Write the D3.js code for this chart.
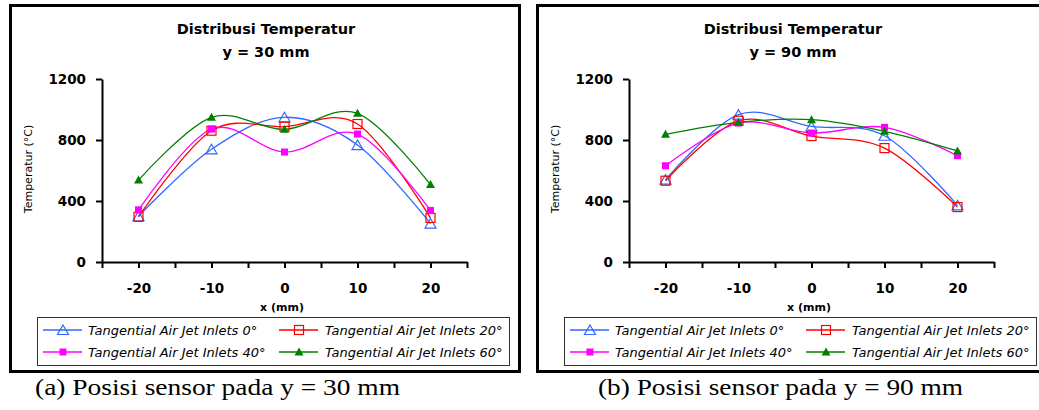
<!DOCTYPE html>
<html>
<head>
<meta charset="utf-8">
<script src="https://cdn.jsdelivr.net/npm/d3@7"></script>
<style>
  body { margin: 0; background: #fff; }
  svg { display: block; }
  .tick text { font-family: "DejaVu Sans", sans-serif; font-weight: bold; font-size: 13.5px; fill: #000; }
  .caption { font-family: "Liberation Serif", "Times New Roman", serif; font-size: 24px; }
</style>
</head>
<body>
<script>
// data
var xValues = [-20, -10, 0, 10, 20];
var seriesNames = ["Tangential Air Jet Inlets 0°", "Tangential Air Jet Inlets 20°",
                   "Tangential Air Jet Inlets 40°", "Tangential Air Jet Inlets 60°"];
var yTicks = [0, 400, 800, 1200];

// y = 30 mm
var a0  = [300, 739, 949, 767, 252];
var a20 = [296, 861, 887, 905, 289];
var a40 = [342, 872, 721, 839, 338];
var a60 = [537, 949, 870, 975, 508];

// y = 90 mm
var b0  = [540, 966, 889, 828, 371];
var b20 = [533, 926, 826, 747, 360];
var b40 = [631, 911, 846, 883, 697];
var b60 = [837, 916, 933, 857, 728];

var svgWidth = 1039;
var svgHeight = 410;

var colors = ["#3366ff", "#ff0000", "#ff00ff", "#008000"];

var svg = d3.select("body")
  .append("svg")
  .attr("width", svgWidth)
  .attr("height", svgHeight);

var panels = [
  { x0: 9,   sub: "y = 30 mm", caption: "(a) Posisi sensor pada y = 30 mm", capX: 35,  data: [a0, a20, a40, a60] },
  { x0: 536, sub: "y = 90 mm", caption: "(b) Posisi sensor pada y = 90 mm", capX: 598, data: [b0, b20, b40, b60] }
];

// marker drawing, one per series
function drawMarker(g, i, cx, cy) {
  if (i === 0) {
    g.append("path")
      .attr("d", `M${cx},${cy - 5}L${cx + 5.5},${cy + 4.5}L${cx - 5.5},${cy + 4.5}Z`)
      .attr("fill", "none").attr("stroke", colors[0]).attr("stroke-width", 1.2);
  } else if (i === 1) {
    g.append("rect")
      .attr("x", cx - 4.5).attr("y", cy - 4.5).attr("width", 9).attr("height", 9)
      .attr("fill", "none").attr("stroke", colors[1]).attr("stroke-width", 1.2);
  } else if (i === 2) {
    g.append("rect")
      .attr("x", cx - 3.5).attr("y", cy - 3.5).attr("width", 7).attr("height", 7)
      .attr("fill", colors[2]);
  } else {
    g.append("path")
      .attr("d", `M${cx},${cy - 4.5}L${cx + 4.5},${cy + 3.5}L${cx - 4.5},${cy + 3.5}Z`)
      .attr("fill", colors[3]);
  }
}

panels.forEach(function (p) {
  var x0 = p.x0;
  var g = svg.append("g");

  // outer frame
  g.append("rect")
    .attr("x", x0 + 1.5).attr("y", 5.5)
    .attr("width", 509).attr("height", 366)
    .attr("fill", "none").attr("stroke", "#000").attr("stroke-width", 3);

  // titles
  g.append("text")
    .attr("x", x0 + 257).attr("y", 34)
    .attr("text-anchor", "middle")
    .style("font-family", "DejaVu Sans").style("font-weight", "bold").style("font-size", "14.5px")
    .text("Distribusi Temperatur");
  g.append("text")
    .attr("x", x0 + 257).attr("y", 57)
    .attr("text-anchor", "middle")
    .style("font-family", "DejaVu Sans").style("font-weight", "bold").style("font-size", "14.5px")
    .text(p.sub);

  var xScale = d3.scaleLinear().domain([-25, 25]).range([x0 + 93, x0 + 458]);
  var yScale = d3.scaleLinear().domain([0, 1200]).range([262, 79]);

  // axes
  g.append("g")
    .attr("transform", "translate(0, 262)")
    .call(d3.axisBottom(xScale)
      .tickValues(d3.range(-25, 26, 5))
      .tickSize(6).tickSizeOuter(0).tickPadding(15)
      .tickFormat(d => d % 10 === 0 ? String(d) : ""));
  g.append("g")
    .attr("transform", `translate(${x0 + 93}, 0)`)
    .call(d3.axisLeft(yScale)
      .tickValues(yTicks)
      .tickSize(6).tickSizeOuter(0).tickPadding(10)
      .tickFormat(d => String(d)));
  g.selectAll(".domain").attr("stroke", "#000").attr("stroke-width", 2);
  g.selectAll(".tick line").attr("stroke", "#000").attr("stroke-width", 2);

  g.append("text")
    .attr("x", x0 + 273).attr("y", 311)
    .attr("text-anchor", "middle")
    .style("font-family", "DejaVu Sans").style("font-weight", "bold").style("font-size", "11px")
    .text("x (mm)");

  g.append("text")
    .attr("transform", `translate(${x0 + 23}, 169) rotate(-90)`)
    .attr("text-anchor", "middle")
    .style("font-family", "DejaVu Sans").style("font-size", "11px")
    .text("Temperatur (°C)");

  // series
  var line = d3.line()
    .x((d, i) => xScale(xValues[i]))
    .y(d => yScale(d))
    .curve(d3.curveCardinal.tension(0));

  p.data.forEach(function (vals, si) {
    g.append("path")
      .datum(vals)
      .attr("d", line)
      .attr("fill", "none")
      .attr("stroke", colors[si])
      .attr("stroke-width", 1.3);
  });
  p.data.forEach(function (vals, si) {
    vals.forEach(function (v, i) {
      drawMarker(g, si, xScale(xValues[i]), yScale(v));
    });
  });

  // legend
  var lg = g.append("g");
  lg.append("rect")
    .attr("x", x0 + 28.5).attr("y", 317.5)
    .attr("width", 472).attr("height", 48)
    .attr("fill", "#fff").attr("stroke", "#333").attr("stroke-width", 1);

  seriesNames.forEach(function (name, si) {
    var col = si % 2, row = Math.floor(si / 2);
    var lx = x0 + (col === 0 ? 34 : 270);
    var ly = 330 + row * 22;
    lg.append("line")
      .attr("x1", lx).attr("x2", lx + 39)
      .attr("y1", ly).attr("y2", ly)
      .attr("stroke", colors[si]).attr("stroke-width", 1.3);
    drawMarker(lg, si, lx + 20, ly);
    lg.append("text")
      .attr("x", x0 + (col === 0 ? 79 : 316)).attr("y", ly + 4.5)
      .style("font-family", "DejaVu Sans").style("font-style", "italic").style("font-size", "13px")
      .text(name);
  });

  // caption under the frame
  svg.append("text")
    .attr("class", "caption")
    .attr("x", p.capX).attr("y", 395)
    .attr("textLength", 365).attr("lengthAdjust", "spacingAndGlyphs")
    .text(p.caption);
});
</script>
</body>
</html>
